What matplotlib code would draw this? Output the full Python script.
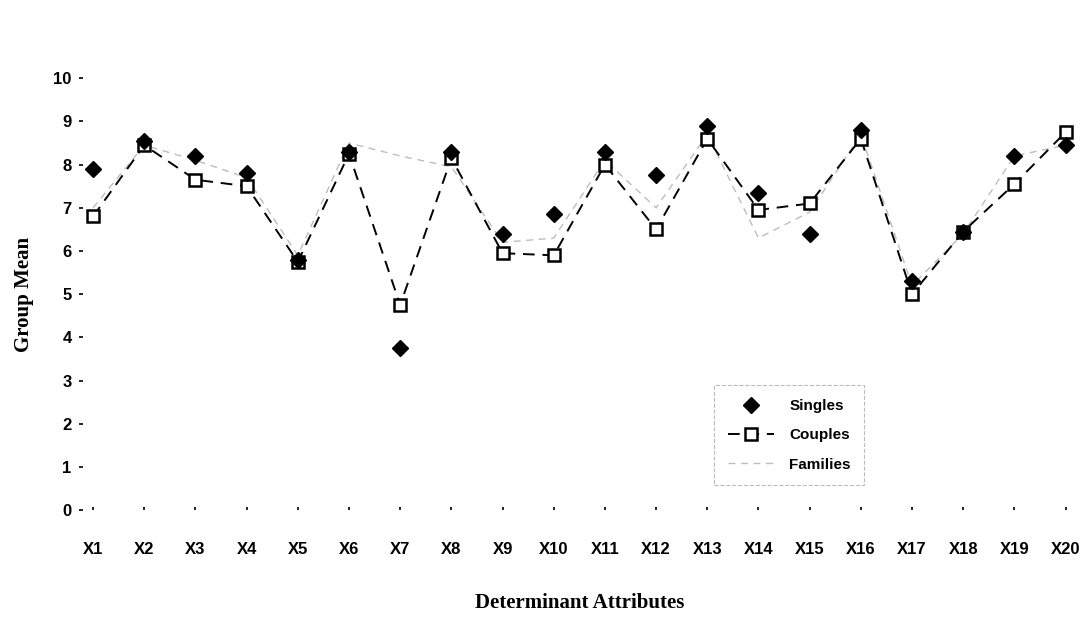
import matplotlib
matplotlib.use("Agg")
import matplotlib.pyplot as plt
import numpy as np

# attributs X1..X20
attributes = [f"X{i}" for i in range(1, 21)]

singles = [7.9, 8.55, 8.2, 7.8, 5.8, 8.3, 3.75, 8.3, 6.4, 6.85,
           8.3, 7.75, 8.9, 7.35, 6.4, 8.8, 5.3, 6.45, 8.2, 8.45]
couples = [6.8, 8.45, 7.65, 7.5, 5.75, 8.25, 4.75, 8.15, 5.95, 5.9,
           8.0, 6.5, 8.6, 6.95, 7.1, 8.6, 5.0, 6.45, 7.55, 8.75]
families = [7.0, 8.45, 8.1, 7.7, 5.9, 8.5, 8.2, 7.95, 6.2, 6.3,
            8.1, 7.0, 8.7, 6.3, 6.9, 8.7, 5.2, 6.4, 8.2, 8.45]

x = np.arange(len(attributes))

fig = plt.figure(figsize=(10.9, 6.41), dpi=100)
ax = fig.add_axes([0.076, 0.204, 0.911, 0.674])

ax.plot(x, families, color="#bdbdbd", lw=1.0, ls=(0, (5, 4)), label="Families", zorder=1)
ax.plot(x, couples, color="black", lw=1.4, ls=(0, (6, 4)), marker="s", ms=9,
        mfc="white", mec="black", mew=1.8, label="Couples", zorder=2)
ax.plot(x, singles, ls="none", marker="D", ms=8, color="black", label="Singles", zorder=3)

ax.set_xlim(-0.2, 19.2)
ax.set_ylim(0, 10)
ax.set_yticks(range(0, 11))
ax.set_xticks(x)
ax.set_xticklabels(attributes)

for s in ax.spines.values():
    s.set_visible(False)

ax.tick_params(axis="y", length=3, width=1.2, direction="out", pad=5,
               labelsize=12)
ax.tick_params(axis="x", length=2, width=1.2, direction="in", pad=23,
               labelsize=12)
for lab in ax.get_xticklabels() + ax.get_yticklabels():
    lab.set_fontfamily("Liberation Sans")
    lab.set_fontweight("bold")

ax.set_xlabel("Determinant Attributes", fontsize=15, fontweight="bold",
              fontfamily="Liberation Serif", labelpad=26)
ax.set_ylabel("Group Mean", fontsize=15, fontweight="bold",
              fontfamily="Liberation Serif", labelpad=14)

# ordre de la légende comme dans l'original
handles, labels = ax.get_legend_handles_labels()
order = [2, 1, 0]
leg = ax.legend([handles[i] for i in order], [labels[i] for i in order],
                loc="upper left", bbox_to_anchor=(0.636, 0.289),
                prop={"family": "Liberation Sans", "weight": "bold", "size": 11},
                frameon=True, fancybox=False, borderpad=0.9, labelspacing=1.0,
                handlelength=3.0, handletextpad=1.0, borderaxespad=0)
leg.get_frame().set_edgecolor("#aaaaaa")
leg.get_frame().set_linestyle("--")
leg.get_frame().set_linewidth(0.8)

plt.savefig("out.png", dpi=100)
